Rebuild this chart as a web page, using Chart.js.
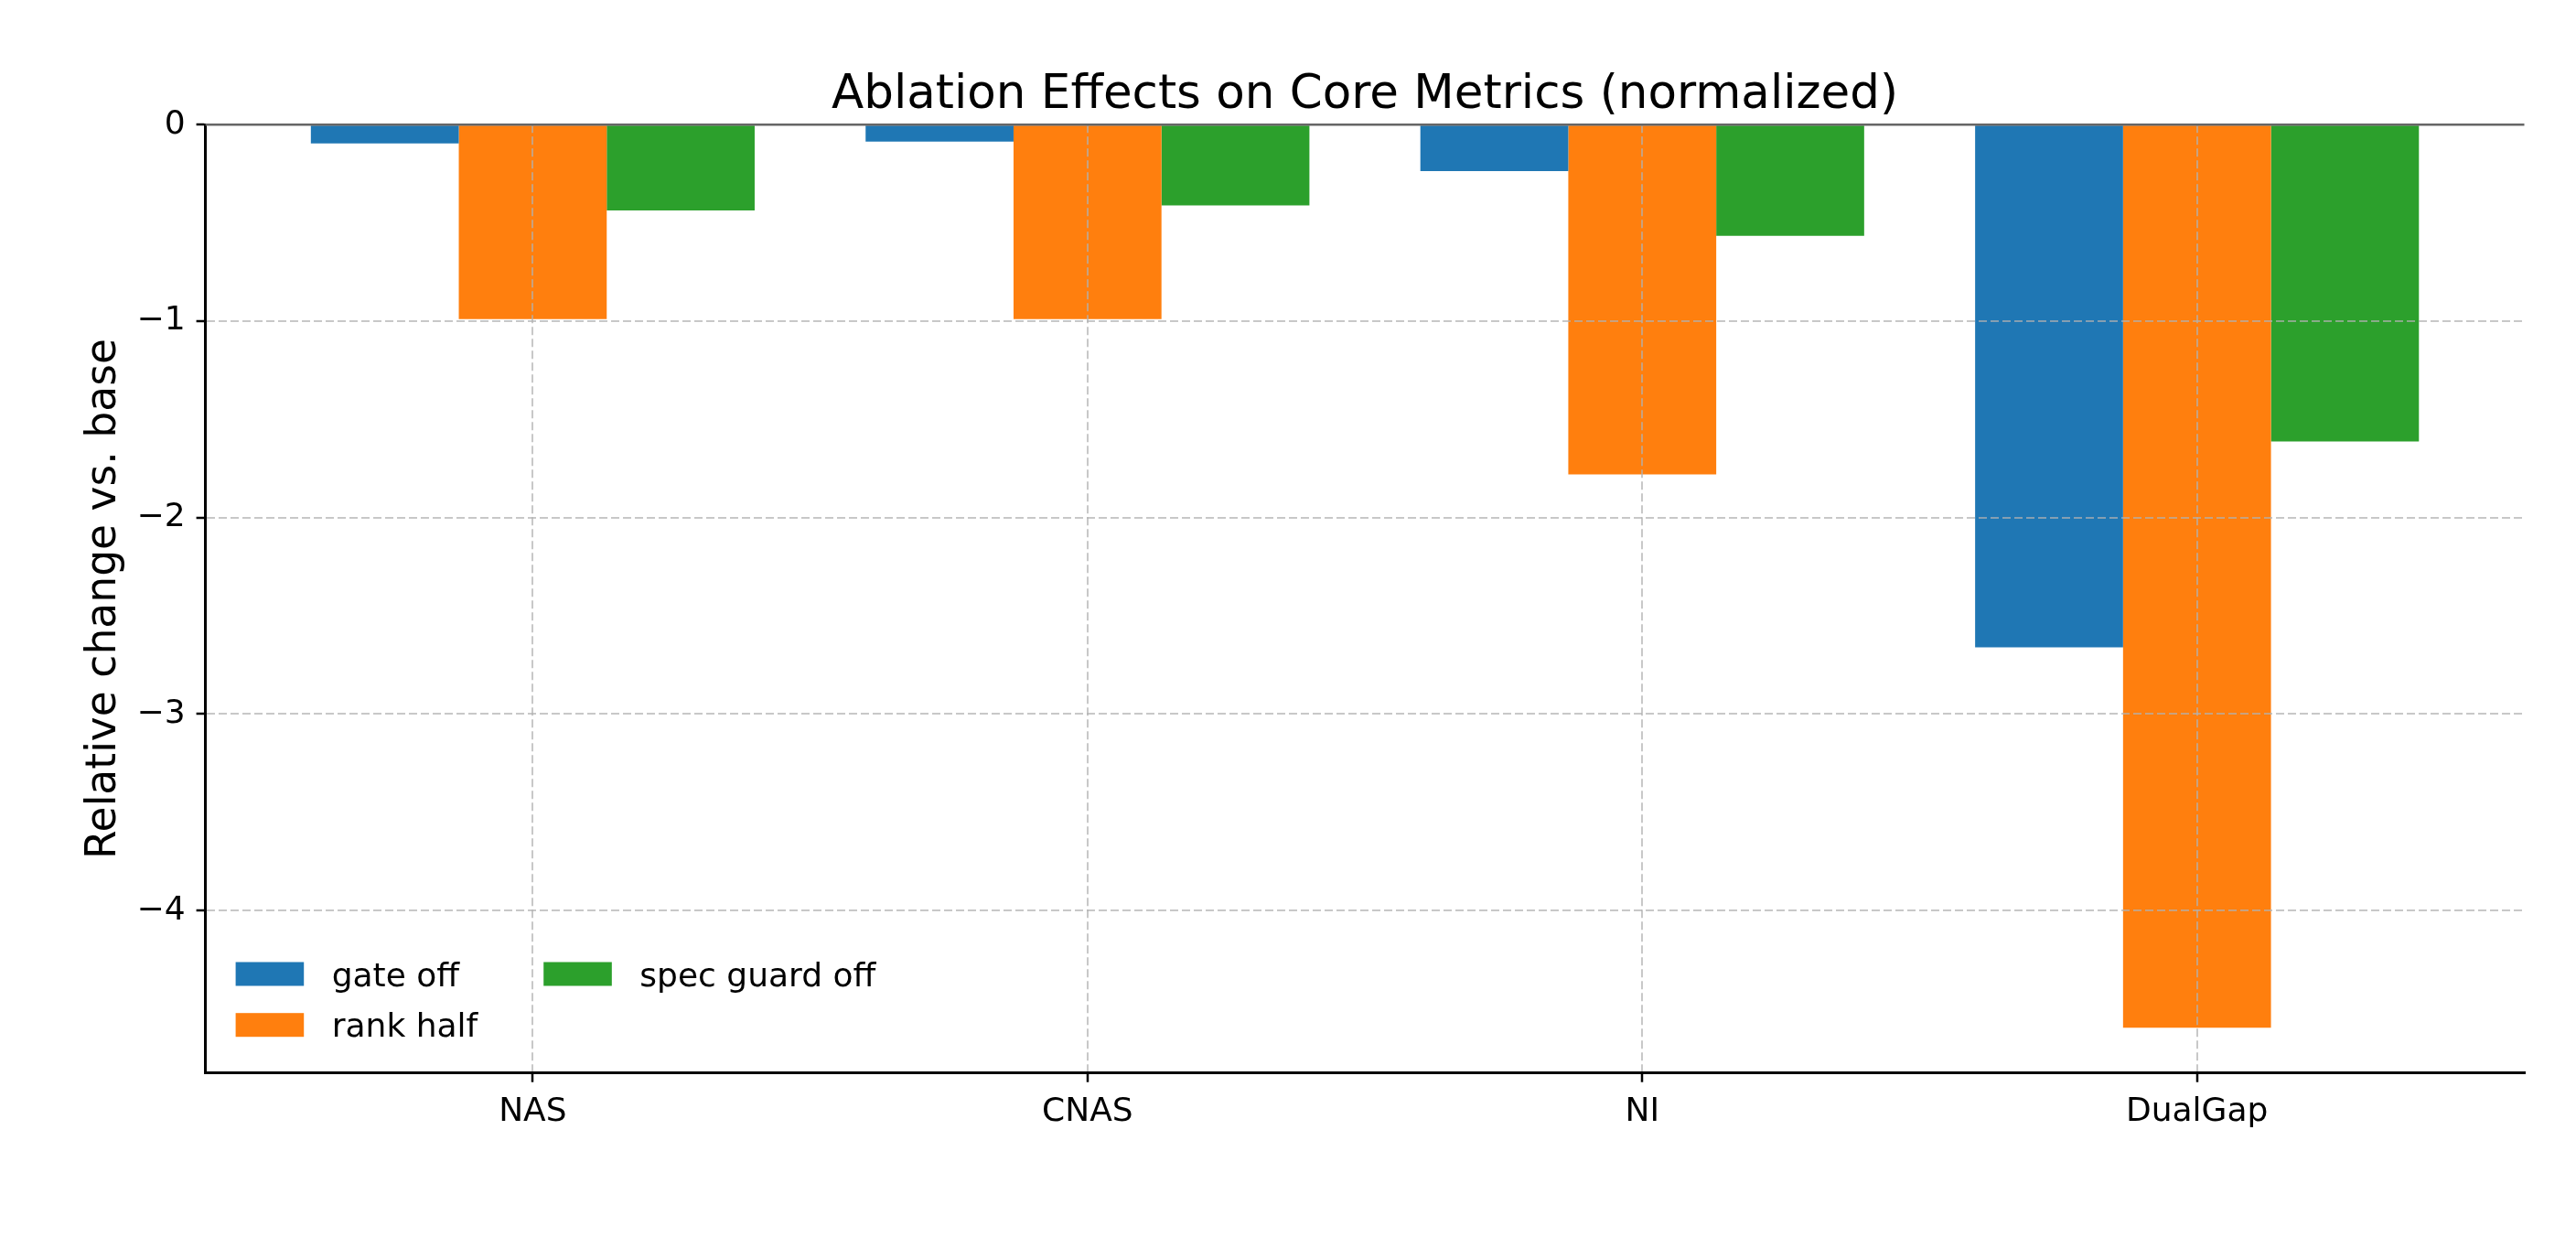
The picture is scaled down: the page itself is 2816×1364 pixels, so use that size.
<!DOCTYPE html>
<html>
<head>
<meta charset="utf-8">
<title>Ablation Effects on Core Metrics (normalized)</title>
<script src="https://cdn.jsdelivr.net/npm/chart.js@4.4.1/dist/chart.umd.min.js"></script>
<style>
html, body { margin: 0; padding: 0; background: #ffffff; }
#wrap { width: 2816px; height: 1364px; }
</style>
</head>
<body>
<div id="wrap"><canvas id="c" width="2816" height="1364"></canvas></div>
<script>
// ---- data ----
const categories = ['NAS', 'CNAS', 'NI', 'DualGap'];
const seriesNames = ['gate off', 'rank half', 'spec guard off'];
const gateOff = [-0.095, -0.086, -0.236, -2.66];
const rankHalf = [-0.99, -0.99, -1.78, -4.597];
const specGuardOff = [-0.436, -0.411, -0.566, -1.612];
const yTicks = [0, -1, -2, -3, -4];
const seriesColors = ['#1f77b4', '#ff7f0e', '#2ca02c'];

const FONT = "'DejaVu Sans', sans-serif";
Chart.defaults.font.family = FONT;
Chart.defaults.color = '#000000';

const allSeries = [gateOff, rankHalf, specGuardOff];
const dataMin = Math.min(...allSeries.flat());
const yMin = dataMin * 1.05;   // matplotlib-style 5% margin
const yMax = 0;

const datasets = allSeries.map((vals, k) => ({
  label: seriesNames[k],
  data: vals.map((v, i) => ({ x: i, y: v })),
  backgroundColor: seriesColors[k],
  borderWidth: 0,
  categoryPercentage: 0.8,
  barPercentage: 1.0
}));

const zeroLine = {
  id: 'zeroLine',
  afterDraw(chart) {
    const { ctx, chartArea } = chart;
    const y = chart.scales.y.getPixelForValue(0);
    ctx.save();
    ctx.strokeStyle = '#666666';
    ctx.lineWidth = 2.5;
    ctx.beginPath();
    ctx.moveTo(chartArea.left, y);
    ctx.lineTo(chartArea.right, y);
    ctx.stroke();
    ctx.restore();
  }
};

const mplLegend = {
  id: 'mplLegend',
  afterDraw(chart) {
    const { ctx, chartArea } = chart;
    const fs = 36, hw = 74.6, hh = 26, pad = 30.5, rowH = 55.7, colSp = 72;
    const rows = 2;
    const items = chart.data.datasets.map(d => ({ label: d.label, color: d.backgroundColor }));
    const ncol = Math.ceil(items.length / rows);
    ctx.save();
    ctx.font = fs + 'px ' + FONT;
    ctx.textBaseline = 'alphabetic';
    ctx.textAlign = 'left';
    let x = chartArea.left + 33;
    for (let c = 0; c < ncol; c++) {
      const colItems = items.slice(c * rows, c * rows + rows);
      let maxW = 0;
      colItems.forEach((it, r) => {
        const bottom = chartArea.bottom - 39.5 - (rows - 1 - r) * rowH;
        ctx.fillStyle = it.color;
        ctx.fillRect(x, bottom - hh, hw, hh);
        ctx.fillStyle = '#000000';
        ctx.fillText(it.label, x + hw + pad, bottom);
        maxW = Math.max(maxW, ctx.measureText(it.label).width);
      });
      x += hw + pad + maxW + colSp;
    }
    ctx.restore();
  }
};

const gridColor = 'rgba(176,176,176,0.7)';

new Chart(document.getElementById('c'), {
  type: 'bar',
  data: { datasets },
  plugins: [zeroLine, mplLegend],
  options: {
    responsive: false,
    animation: false,
    devicePixelRatio: 1,
    layout: { padding: { left: 0, right: 56.5, top: 0, bottom: 0 } },
    plugins: {
      legend: { display: false },
      tooltip: { enabled: false },
      title: {
        display: true,
        fullSize: false,
        text: 'Ablation Effects on Core Metrics (normalized)',
        color: '#000000',
        font: { family: FONT, size: 51.5, weight: 'normal', lineHeight: 1.2 },
        padding: { top: 74, bottom: 0.5 }
      }
    },
    scales: {
      x: {
        type: 'linear',
        min: -0.59,
        max: 3.59,
        offset: false,
        z: 1,
        afterBuildTicks: s => { s.ticks = categories.map((c, i) => ({ value: i })); },
        afterFit: s => { s.height = 191.3; },
        ticks: {
          callback: v => categories[v],
          color: '#000000',
          font: { family: FONT, size: 36 },
          padding: 11,
          maxRotation: 0,
          autoSkip: false
        },
        grid: {
          z: 1,
          offset: false,
          color: gridColor,
          lineWidth: 2,
          drawTicks: true,
          tickLength: 10,
          tickColor: '#000000',
          tickWidth: 2.5,
          tickBorderDash: []
        },
        border: { z: 2, display: true, color: '#000000', width: 3, dash: [9, 4] }
      },
      y: {
        type: 'linear',
        min: yMin,
        max: yMax,
        z: 1,
        afterBuildTicks: s => { s.ticks = yTicks.map(v => ({ value: v })); },
        afterFit: s => { s.width = 224.6; },
        ticks: {
          callback: v => (v === 0 ? '0' : (v < 0 ? '\u2212' : '') + Math.abs(v)),
          color: '#000000',
          font: { family: FONT, size: 36 },
          padding: 12
        },
        grid: {
          z: 1,
          offset: false,
          color: gridColor,
          lineWidth: 2,
          drawTicks: true,
          tickLength: 10,
          tickColor: '#000000',
          tickWidth: 2.5,
          tickBorderDash: []
        },
        border: { z: 2, display: true, color: '#000000', width: 3, dash: [9, 4] },
        title: {
          display: true,
          text: 'Relative change vs. base',
          color: '#000000',
          font: { family: FONT, size: 45.6, lineHeight: 1.2 },
          padding: { top: 87.2, bottom: 0 }
        }
      }
    }
  }
});
</script>
</body>
</html>
